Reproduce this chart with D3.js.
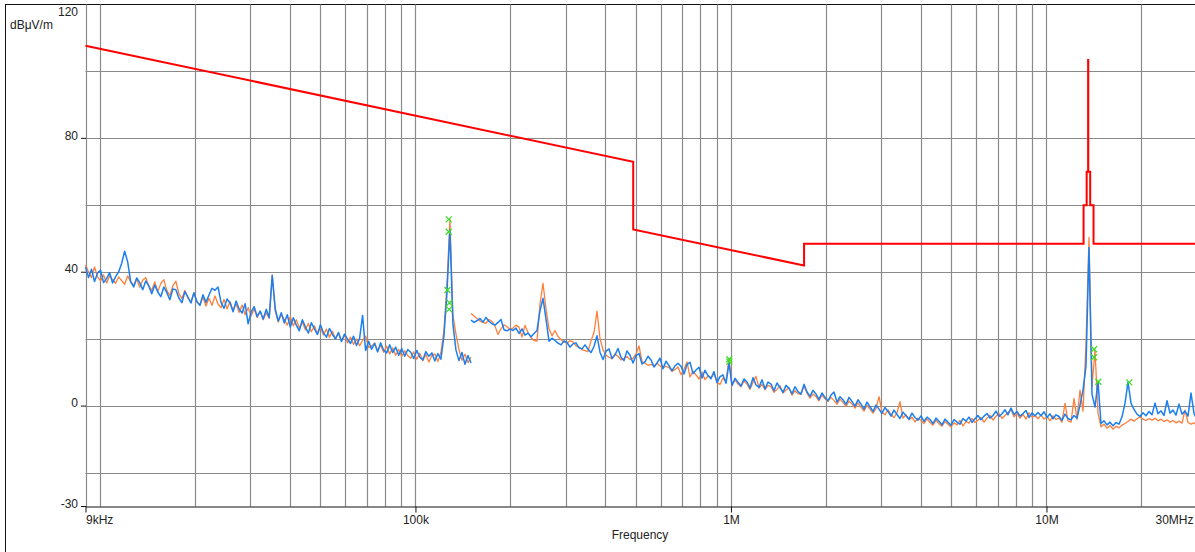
<!DOCTYPE html>
<html lang="en">
<head>
    <meta charset="UTF-8">
    <title>emission scan</title>
    <script src="https://d3js.org/d3.v7.min.js"></script>
    <style>
        body { margin: 0; background: #fff; }
        text { font-family: "Liberation Sans", Arial, sans-serif; font-size: 12px; fill: #222; }
    </style>
</head>
<body>
    <svg></svg>
    <script>
        // sweep bands (Hz)
        const band1Range = [9e3, 150e3];
        const band2Range = [150e3, 30e6];

        // levels in dBuV/m, one value per sweep point
        const blueBand1 = [
            41.6, 38.4, 40.9, 37.2, 39.8, 40.6, 36.9, 38.1, 39.9, 36.8,
            38.7, 40.1, 42.6, 46.3, 43.1, 37.2, 35.6, 38.3, 36.9, 34.8,
            37.4, 35.9, 33.6, 36.2, 34.1, 32.7, 35.6, 33.9, 31.8, 35.0,
            34.8, 32.3, 30.9, 34.2, 32.6, 30.8, 33.9, 31.2, 30.1, 33.3,
            31.0, 33.2, 35.2, 34.6, 35.6, 31.0, 29.2, 32.0, 30.8, 28.2,
            31.4, 29.0, 27.8, 30.6, 24.6, 28.1, 29.7, 26.8, 28.4, 26.0,
            28.9, 26.5, 39.0, 29.1, 25.4, 27.9, 24.8, 27.3, 23.6, 26.4,
            24.2, 22.5, 25.8, 23.7, 21.8, 24.9, 23.1, 21.4, 24.3, 21.9,
            20.6, 23.2, 21.4, 20.1, 22.0, 19.3, 21.5, 20.0, 18.7, 20.9,
            18.1, 20.2, 27.1, 16.6, 19.4, 17.0, 18.7, 16.2, 18.9, 16.7,
            15.9, 18.3, 16.0, 17.6, 15.2, 17.2, 14.9, 16.9, 16.1, 14.2,
            16.6, 14.6, 13.8, 16.3, 14.9, 15.9, 13.5, 15.7, 14.0, 20.8,
            33.6, 52.6, 24.5, 16.8, 13.6, 16.0, 12.5, 15.1, 12.9
        ];
        const orangeBand1 = [
            42.2, 40.1, 38.4, 41.6, 38.6, 37.4, 39.2, 36.8, 38.9, 37.8,
            36.7, 38.6, 37.5, 36.4, 38.9, 37.1, 36.2, 38.0, 35.5, 37.6,
            38.4, 35.9, 34.6, 37.1, 34.2, 36.6, 37.8, 34.6, 33.1, 35.9,
            37.3, 33.6, 32.1, 34.6, 32.3, 31.0, 33.8, 31.2, 30.3, 32.6,
            29.9, 32.2, 30.1, 32.9, 30.5, 29.4, 31.9, 29.0, 31.3, 28.6,
            30.5, 28.0, 30.2, 27.3, 29.4, 26.9, 29.1, 26.5, 28.3, 25.8,
            27.9, 26.2, 39.2, 28.4, 25.1, 27.4, 25.9, 24.2, 26.7, 24.0,
            25.8, 23.3, 25.1, 22.8, 24.7, 22.2, 24.0, 21.6, 23.5, 21.3,
            23.0, 20.6, 22.4, 20.1, 21.9, 19.5, 21.2, 18.9, 20.6, 18.4,
            20.1, 18.0, 19.6, 20.9, 17.5, 17.9, 18.9, 16.5, 18.2, 16.1,
            17.9, 15.6, 17.4, 15.2, 16.9, 14.8, 16.5, 15.1, 14.3, 16.2,
            14.0, 15.8, 13.6, 15.4, 13.2, 15.1, 15.6, 13.3, 16.0, 22.4,
            35.8, 55.8, 27.1, 21.6, 16.9, 13.7, 15.5, 13.0, 14.6
        ];
        const blueBand2 = [
            25.7, 25.0, 25.5, 26.2, 25.1, 26.5, 25.3, 24.6, 24.2, 25.0,
            25.9, 22.8, 22.5, 23.0, 22.6, 23.3, 21.7, 23.1, 21.2, 21.8,
            20.7, 21.7, 22.6, 28.5, 32.2, 26.0, 19.4, 20.3, 19.6, 18.8,
            18.3, 19.5, 19.0, 17.6, 18.6, 18.9, 17.4, 17.1, 18.3, 17.0,
            16.0, 17.8, 21.0, 16.1, 13.9, 16.4, 17.1, 14.2, 15.3, 17.2,
            14.6, 13.6, 16.5, 15.2, 12.9, 15.1, 15.7, 12.6, 13.2, 14.9,
            13.8, 11.7, 12.9, 14.3, 11.2, 13.4, 12.1, 10.5, 12.0, 12.8,
            11.9, 9.6, 12.4, 13.1, 9.7, 10.8, 11.6, 8.4, 10.7, 9.1,
            8.2, 10.3, 7.0, 8.8, 9.3, 6.8, 12.8, 6.2, 8.3, 7.1,
            6.0, 8.1, 7.2, 5.4, 8.5, 6.3, 5.6, 7.9, 5.1, 7.2,
            6.6, 4.6, 6.9, 5.5, 4.1, 6.2, 5.3, 3.7, 5.8, 4.3,
            3.6, 6.5, 4.2, 2.9, 4.7, 3.6, 2.0, 3.9, 2.6, 1.6,
            3.3, 4.2, 1.2, 2.8, 1.9, 0.5, 2.6, 1.4, 0.0, 1.9,
            0.6, -0.9, 1.2, -0.2, -1.6, 0.3, -0.9, -2.2, -0.4, -1.6,
            -3.0, -1.2, -2.5, -3.7, -1.8, -2.9, -3.9, -2.1, -3.4, -4.2,
            -2.9, -4.6, -3.3, -4.0, -5.2, -3.6, -4.5, -5.6, -3.9, -4.8,
            -5.7, -4.0, -4.8, -5.4, -3.7, -4.5, -3.3, -4.9, -3.8, -2.8,
            -4.1, -3.0, -2.2, -3.6, -2.8, -1.5, -3.1, -2.3, -1.1, -2.6,
            -0.6, -2.5, -1.6, -3.0, -2.2, -1.3, -3.4, -2.0, -2.9, -1.9,
            -2.9, -1.7, -3.4, -2.3, -3.8, -2.6, -3.1, -4.2, -2.4, -3.7,
            -4.1, -2.8, -3.6, 0.3, 4.8, 12.0, 47.4, 3.5, -0.3, 7.3,
            -5.2, -4.4, -5.6, -4.8, -5.9, -4.9, -5.4, -3.2, 0.8, 7.2,
            0.9, -1.0, -2.4, -3.1, -2.0, -2.9, -1.6, -2.6, 0.9, -2.3,
            -1.4, -2.8, 1.6, -2.1, -1.2, -2.7, 0.6, -2.4, -1.5, -3.0,
            3.9, -2.2, -4.0
        ];
        const orangeBand2 = [
            27.7, 26.9, 26.2, 25.4, 25.0, 24.7, 25.9, 25.3, 23.9, 21.4,
            23.1, 24.3, 23.7, 22.9, 23.3, 24.2, 23.6, 20.6, 24.1, 22.0,
            20.5, 19.6, 19.4, 30.5, 36.7, 29.0, 23.1, 21.0, 22.6, 20.8,
            19.9, 19.1, 18.8, 19.5, 19.2, 18.0, 17.7, 16.9, 16.6, 16.3,
            19.5, 22.0, 28.4, 20.2, 16.8, 15.2, 14.6, 14.2, 15.6, 14.9,
            13.8, 14.2, 14.8, 13.9, 14.3, 15.5, 18.0, 13.3, 12.8, 12.2,
            12.5, 11.9, 12.8, 12.0, 11.4, 11.9, 11.5, 10.4, 10.9, 11.7,
            9.4, 11.0, 13.2, 8.7, 10.4, 9.3, 8.1, 10.2, 7.9, 9.0,
            8.6, 9.7, 7.1, 6.5, 8.4, 7.3, 14.2, 6.1, 7.9, 6.6,
            5.8, 7.5, 6.6, 5.0, 7.1, 8.9, 5.4, 6.5, 4.9, 6.2,
            5.8, 4.1, 5.0, 6.1, 3.9, 4.8, 5.5, 3.3, 4.6, 3.7,
            3.5, 5.9, 3.9, 2.4, 3.6, 2.8, 1.6, 3.3, 2.2, 1.4,
            2.6, 1.7, 0.5, 2.1, 1.1, -0.1, 1.5, 0.6, -0.6, 1.0,
            -0.4, -1.5, 0.2, -0.9, -2.1, -0.7, 2.8, -1.8, -2.6, -1.1,
            -2.5, -3.4, -2.0, 1.3, -3.6, -2.6, -4.1, -3.3, -4.7, -3.6,
            -4.3, -5.2, -3.8, -4.9, -5.7, -4.2, -5.3, -6.0, -4.6, -5.4,
            -6.2, -5.0, -5.6, -4.3, -5.9, -4.6, -5.1, -3.7, -4.9, -4.2,
            -3.4, -4.8, -3.6, -2.7, -4.2, -3.0, -2.2, -3.7, -2.8, -1.9,
            -1.0, -3.2, -2.1, -3.6, -2.5, -3.9, -2.0, -3.3, -2.9, -3.8,
            -2.6, -3.9, -3.1, -4.4, -2.9, -4.0, -3.6, -4.8, 0.8, -4.4,
            -4.8, 2.3, -3.9, 4.8, -1.5, 18.5, 50.4, 5.8, 16.7, -2.1,
            -6.2, -5.4, -6.6, -5.8, -6.9, -6.0, -6.5, -5.7, -5.2, -4.6,
            -3.9, -4.5, -3.8, -3.2, -3.9, -4.3, -3.7, -4.2, -3.6, -4.4,
            -3.9, -4.6, -4.1, -4.8, -4.3, -5.0, -4.5, -5.1, -1.2, -4.9,
            -5.4, -5.0, -5.8
        ];

        // limit line
        const limitFreq = [9e3, 490e3, 490e3, 1.705e6, 1.705e6, 13.11e6, 13.11e6, 13.41e6, 13.41e6,
            13.553e6, 13.553e6, 13.567e6, 13.567e6, 13.76e6, 13.76e6, 14.1e6, 14.1e6, 30e6];
        const limitLevel = [107.7, 73.0, 52.8, 42.0, 48.5, 48.5, 60, 60, 70,
            70, 103.4, 103.4, 70, 70, 60, 60, 48.5, 48.5];

        // peak markers
        const markerFreq = [127.5e3, 127.5e3, 126.3e3, 128.2e3, 127.9e3, 988e3, 988e3, 14.15e6, 14.15e6, 14.6e6, 18.3e6];
        const markerLevel = [55.8, 52.1, 34.7, 30.9, 28.9, 14.0, 13.3, 17.0, 14.6, 7.3, 7.1];

        // axis labels
        const xLabelFreq = [9e3, 100e3, 1e6, 10e6, 30e6];
        const xLabelText = ['9kHz', '100k', '1M', '10M', '30MHz'];
        const yLabelValues = [120, 80, 40, 0, -30];
        const yGridValues = [-20, 0, 20, 40, 60, 80, 100];

        const svgWidth = 1195;
        const svgHeight = 552;

        const svg = d3.select('svg')
            .attr('width', svgWidth)
            .attr('height', svgHeight);

        const x = d3.scaleLog().domain([9e3, 30e6]).range([85.5, 1197]);
        const y = d3.scaleLinear().domain([-30, 120]).range([506.5, 4.5]);

        // outer frame
        svg.append('rect')
            .attr('x', 5.5).attr('y', 4.5)
            .attr('width', 1200).attr('height', 600)
            .attr('fill', 'none').attr('stroke', '#111').attr('stroke-width', 1);

        // grid
        const grid = svg.append('g').attr('stroke', '#8a8a8a').attr('stroke-width', 1.2);
        grid.selectAll('line.v')
            .data(x.ticks())
            .enter().append('line')
            .attr('class', 'v')
            .attr('x1', d => Math.round(x(d)) + 0.5).attr('x2', d => Math.round(x(d)) + 0.5)
            .attr('y1', y(120)).attr('y2', y(-30));
        grid.selectAll('line.h')
            .data(yGridValues)
            .enter().append('line')
            .attr('class', 'h')
            .attr('x1', x(9e3)).attr('x2', svgWidth)
            .attr('y1', d => Math.round(y(d)) + 0.5).attr('y2', d => Math.round(y(d)) + 0.5);

        // x axis
        const xAxis = svg.append('g')
            .attr('transform', `translate(0,${y(-30)})`)
            .call(d3.axisBottom(x)
                .tickValues(xLabelFreq)
                .tickFormat((d, i) => xLabelText[i])
                .tickSize(6)
                .tickSizeOuter(0)
                .tickPadding(3));
        xAxis.select('.domain').attr('stroke', '#111');
        xAxis.selectAll('.tick line').attr('stroke', '#111');
        xAxis.selectAll('.tick text')
            .attr('text-anchor', (d, i) => i === 0 ? 'start' : (i === xLabelFreq.length - 1 ? 'end' : 'middle'))
            .attr('dx', (d, i) => i === xLabelFreq.length - 1 ? -4 : 0);
        xAxis.attr('font-size', null).attr('font-family', null);

        svg.append('text')
            .attr('x', 640).attr('y', 539)
            .attr('text-anchor', 'middle')
            .text('Frequency');

        // y labels
        svg.selectAll('line.ytick')
            .data(yLabelValues.filter(d => d < 120))
            .enter().append('line')
            .attr('class', 'ytick')
            .attr('x1', 81).attr('x2', 86)
            .attr('y1', d => y(d)).attr('y2', d => y(d))
            .attr('stroke', '#111');
        svg.selectAll('text.ylab')
            .data(yLabelValues)
            .enter().append('text')
            .attr('class', 'ylab')
            .attr('x', 78)
            .attr('y', d => Math.max(y(d) - 3, 12))
            .attr('dy', '0.35em')
            .attr('text-anchor', 'end')
            .text(d => d);
        svg.append('text')
            .attr('x', 10).attr('y', 25).attr('dy', '0.35em')
            .text('dBμV/m');

        // traces
        const plot = svg.append('g');
        const line = d3.line().x(d => x(d[0])).y(d => y(d[1]));

        function sweep(range, levels) {
            const pos = d3.scaleLinear().domain([0, levels.length - 1])
                .range([Math.log10(range[0]), Math.log10(range[1])]);
            return levels.map((v, i) => [Math.pow(10, pos(i)), v]);
        }

        const traces = [
            { data: sweep(band1Range, orangeBand1), color: '#ff7f3a', w: 1.3 },
            { data: sweep(band2Range, orangeBand2), color: '#ff7f3a', w: 1.3 },
            { data: sweep(band1Range, blueBand1), color: '#1a7ff0', w: 1.5 },
            { data: sweep(band2Range, blueBand2), color: '#1a7ff0', w: 1.5 }
        ];
        plot.selectAll('path.trace')
            .data(traces)
            .enter().append('path')
            .attr('class', 'trace')
            .attr('d', d => line(d.data))
            .attr('fill', 'none')
            .attr('stroke', d => d.color)
            .attr('stroke-width', d => d.w)
            .attr('stroke-linejoin', 'round');

        // limit
        plot.append('path')
            .attr('d', line(limitFreq.map((f, i) => [f, limitLevel[i]])))
            .attr('fill', 'none')
            .attr('stroke', '#ff0000')
            .attr('stroke-width', 2);

        // markers
        plot.selectAll('path.marker')
            .data(markerFreq.map((f, i) => [f, markerLevel[i]]))
            .enter().append('path')
            .attr('class', 'marker')
            .attr('transform', d => `translate(${x(d[0])},${y(d[1])})`)
            .attr('d', 'M-3,-3L3,3M-3,3L3,-3')
            .attr('stroke', '#3fdc2a')
            .attr('stroke-width', 1.3)
            .attr('fill', 'none');
    </script>
</body>
</html>
